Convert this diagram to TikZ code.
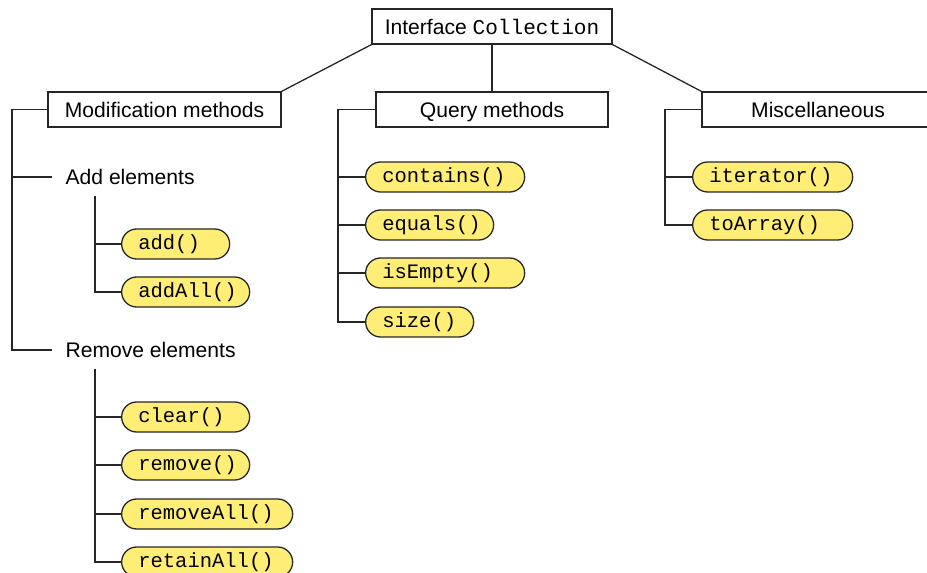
\documentclass[tikz,border=0pt]{standalone}
\usepackage{fontspec}
\setmainfont{Liberation Sans}
\setmonofont{Liberation Mono}
\usepackage{xcolor}
\usepackage{tikz}
\usetikzlibrary{positioning}

\definecolor{pillyellow}{HTML}{FFEE75}
\definecolor{treeline}{HTML}{262626}

\begin{document}
\begin{tikzpicture}[x=0.03cm, y=-0.03cm, line width=1.1pt,
	every node/.style={font=\fontsize{18}{22}\selectfont},
	headbox/.style={draw=treeline, fill=white, minimum height=1.05cm, minimum width=6.96cm,
		inner sep=0pt, text height=15pt, text depth=2pt},
	grouplabel/.style={anchor=west, inner xsep=0.39cm, inner ysep=0pt},
	pill/.style={draw=treeline, fill=pillyellow, rounded corners=0.45cm, minimum height=0.9cm,
		inner xsep=0.5cm, inner ysep=0pt, anchor=west, align=left, text width=#1,
		font=\fontsize{17.5}{21}\selectfont\ttfamily},
	branch/.style={draw=treeline}]
		% Frame of the picture
		\useasboundingbox (0,0) rectangle (927,573);
		
		% Root box
		\node[headbox, minimum width=7.2cm] (coll) at (492,26.5) {Interface \texttt{Collection}};
		
		% Category boxes
		\node[headbox, minimum width=6.99cm] (modif) at (164.5,109.5) {Modification methods};
		\node[headbox] (query) at (492,109.5) {Query methods};
		\node[headbox] (misc) at (818,109.5) {Miscellaneous};
		
		\draw[branch] (coll.south west) -- (modif.north east);
		\draw[branch] (coll.south) -- (query.north);
		\draw[branch] (coll.south east) -- (misc.north west);
		
		% Modification methods
		\coordinate (modtrunk) at (12,109.5);
		\node[grouplabel] (addel) at (52,177) {Add elements};
		\node[grouplabel] (remel) at (52,350) {Remove elements};
		\draw[branch] (modif.west) -- (modtrunk) |- (addel.west);
		\draw[branch] (modtrunk) |- (remel.west);
		
		% Add elements
		\coordinate (addtrunk) at (95,196);
		\node[pill=2.24cm] (add) at (121,244) {add()};
		\node[pill=2.84cm] (addall) at (121,292) {addAll()};
		\draw[branch] (addtrunk) |- (add.west);
		\draw[branch] (addtrunk) |- (addall.west);
		
		% Remove elements
		\coordinate (remtrunk) at (95,369);
		\node[pill=2.84cm] (clear) at (121,417) {clear()};
		\node[pill=2.84cm] (remove) at (121,465) {remove()};
		\node[pill=4.13cm] (removeall) at (121,514) {removeAll()};
		\node[pill=4.13cm] (retainall) at (121,562) {retainAll()};
		\draw[branch] (remtrunk) |- (clear.west);
		\draw[branch] (remtrunk) |- (remove.west);
		\draw[branch] (remtrunk) |- (removeall.west);
		\draw[branch] (remtrunk) |- (retainall.west);
		
		% Query methods
		\coordinate (qtrunk) at (338,109.5);
		\node[pill=3.77cm] (contains) at (365,177) {contains()};
		\node[pill=2.84cm] (equals) at (365,225) {equals()};
		\node[pill=3.77cm] (isempty) at (365,273) {isEmpty()};
		\node[pill=2.24cm] (size) at (365,322) {size()};
		\draw[branch] (query.west) -- (qtrunk) |- (contains.west);
		\draw[branch] (qtrunk) |- (equals.west);
		\draw[branch] (qtrunk) |- (isempty.west);
		\draw[branch] (qtrunk) |- (size.west);
		
		% Miscellaneous
		\coordinate (mtrunk) at (665,109.5);
		\node[pill=3.8cm] (iterator) at (692,177) {iterator()};
		\node[pill=3.8cm] (toarray) at (692,225) {toArray()};
		\draw[branch] (misc.west) -- (mtrunk) |- (iterator.west);
		\draw[branch] (mtrunk) |- (toarray.west);
	\end{tikzpicture}
\end{document}
